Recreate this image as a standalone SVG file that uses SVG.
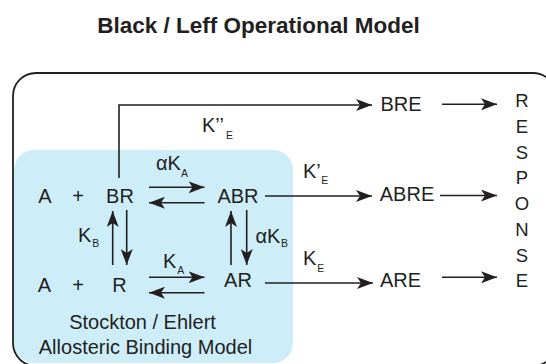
<svg xmlns="http://www.w3.org/2000/svg" width="546" height="364" viewBox="0 0 546 364">
<defs>
<style>
text{font-family:"Liberation Sans",Arial,sans-serif;fill:#231f20}
.t{font-size:20px}
.c{text-anchor:middle}
.s{font-size:10.5px}
.r{font-size:18.5px;text-anchor:middle}
.ln{stroke:#231f20;stroke-width:1.6;fill:none;marker-end:url(#ah)}
</style>
<marker id="ah" viewBox="0 0 16 12" refX="16" refY="6" markerWidth="16" markerHeight="12" markerUnits="userSpaceOnUse" orient="auto">
<path d="M0,0 L16,6 L0,12 L4,6 z" fill="#231f20"/>
</marker>
</defs>
<rect width="546" height="364" fill="#fff"/>
<g id="title"><text x="258.5" y="33.3" class="c" font-size="22.5" font-weight="bold">Black / Leff Operational Model</text></g>
<g id="allosteric-box">
<rect x="14" y="150" width="279" height="213" rx="20" fill="#cdeef9"/>
<text x="142.5" y="329.3" class="t c" font-size="21">Stockton / Ehlert</text>
<text x="145.5" y="354" class="t c" font-size="21">Allosteric Binding Model</text>
</g>
<g id="operational-box"><rect x="13" y="73" width="543" height="293" rx="23" fill="none" stroke="#231f20" stroke-width="1.8"/></g>
<g id="A-top"><text x="45" y="202.5" class="t c">A</text><text x="78" y="202.5" class="t c">+</text></g>
<g id="BR"><text x="120" y="202.5" class="t c">BR</text></g>
<g id="ABR"><text x="238" y="202.5" class="t c">ABR</text></g>
<g id="A-bottom"><text x="44.5" y="291.7" class="t c">A</text><text x="78" y="291.7" class="t c">+</text></g>
<g id="R"><text x="119.5" y="291.7" class="t c">R</text></g>
<g id="AR"><text x="238" y="287.3" class="t c">AR</text></g>
<g id="BRE"><text x="401" y="110.7" class="t c">BRE</text></g>
<g id="ABRE"><text x="407" y="200.7" class="t c">ABRE</text></g>
<g id="ARE"><text x="400.5" y="287.3" class="t c">ARE</text></g>
<g id="response">
<text x="522" y="107.3" class="r">R</text>
<text x="522" y="133" class="r">E</text>
<text x="522" y="158.7" class="r">S</text>
<text x="522" y="184.4" class="r">P</text>
<text x="522" y="209.5" class="r">O</text>
<text x="522" y="235.5" class="r">N</text>
<text x="522" y="261.5" class="r">S</text>
<text x="522" y="287.2" class="r">E</text>
</g>
<g id="connectors">
<path class="ln" d="M119,178 V105 H372"/>
<path class="ln" d="M265,196 H372"/>
<path class="ln" d="M265,283 H373"/>
<path class="ln" d="M442,104.3 H497"/>
<path class="ln" d="M440,195.5 H497"/>
<path class="ln" d="M442,277.3 H497"/>
<path class="ln" d="M149,187.3 H204.5"/>
<path class="ln" d="M204.5,202.7 H149"/>
<path class="ln" d="M149,277.3 H204.5"/>
<path class="ln" d="M204.5,292.7 H149"/>
<path class="ln" d="M112.7,265 V211"/>
<path class="ln" d="M126.7,210 V265"/>
<path class="ln" d="M231,265 V211"/>
<path class="ln" d="M246.7,210 V265"/>
</g>
<g id="labels">
<text x="156" y="170" class="t">αK<tspan dy="6.5" class="s">A</tspan></text>
<text x="163" y="268.3" class="t">K<tspan dy="5.7" dx="1" class="s">A</tspan></text>
<text x="78" y="241.7" class="t">K<tspan dy="5.6" dx="1" class="s">B</tspan></text>
<text x="255.5" y="242.8" class="t">αK<tspan dy="4.5" dx="0.5" class="s">B</tspan></text>
<text x="202" y="132.3" class="t">K’’<tspan dy="6.2" dx="2" class="s">E</tspan></text>
<text x="303" y="178.3" class="t">K’<tspan dy="5.7" dx="0.5" class="s">E</tspan></text>
<text x="303" y="265" class="t">K<tspan dy="6.7" dx="1" class="s">E</tspan></text>
</g>
</svg>
